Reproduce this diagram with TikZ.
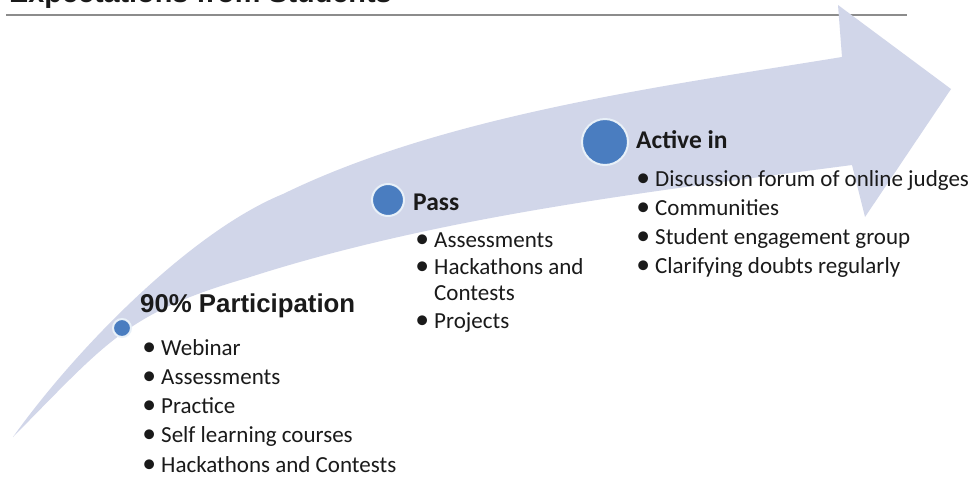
\documentclass[tikz,border=0pt]{standalone}
\usepackage{fontspec}
\setmainfont{Carlito}
\newfontfamily\arialfont{Liberation Sans}
\definecolor{band}{RGB}{209,214,233}
\definecolor{dotblue}{RGB}{74,125,192}
\definecolor{dotring}{RGB}{232,240,248}
\definecolor{txt}{RGB}{26,26,26}
\definecolor{rule}{RGB}{140,140,140}
\tikzset{
  dotnode/.style={circle, fill=dotblue, draw=dotring, line width=2pt, inner sep=0pt},
  headtxt/.style={anchor=base west, inner sep=0pt, text=txt, font=\bfseries\fontsize{25.5}{30}\selectfont},
  bul/.style={anchor=base west, inner sep=0pt, text=txt, font=\fontsize{23}{27}\selectfont},
}
\newcommand{\bx}{\makebox[16pt][l]{\makebox[8pt][c]{\scalebox{1.2}{•}}}}
\begin{document}
\begin{tikzpicture}[x=1pt,y=-1pt]
\useasboundingbox (0,0) rectangle (975,483);
\clip (0,0) rectangle (975,483);
\fill[white] (0,0) rectangle (975,483);
% title (cut off at the top, as in the reference)
\node[anchor=base west, inner sep=0pt, text=txt, font=\arialfont\bfseries\fontsize{28.8}{32}\selectfont] (title) at (9,2) {Expectations from Students};
\coordinate (ruleL) at (6,15);
\coordinate (ruleR) at (907,15);
\draw[rule, line width=1.6pt] (ruleL) -- (ruleR);
% curved arrow
\fill[band] (13,437)
  .. controls (75,350) and (190,232) .. (283,194)
  .. controls (445,115) and (664,86) .. (842,57)
  -- (838,5) -- (951,89) -- (865,217) -- (852,165)
  .. controls (654,191) and (439,216) .. (247,278)
  .. controls (126.5,313) and (107,342) .. (13,437)
  -- cycle;
% dots
\node[dotnode, minimum size=18pt] (d1) at (122,328) {};
\node[dotnode, minimum size=32pt] (d2) at (388,200) {};
\node[dotnode, minimum size=46pt] (d3) at (605,142) {};
% headings
\node[headtxt, font=\arialfont\bfseries\fontsize{25.8}{30}\selectfont] (h1) at (140,312) {90\% Participation};
\node[headtxt] (h2) at (413,210) {Pass};
\node[headtxt] (h3) at (636,148) {Active in};
% left list
\node[bul] (l1) at (145,355) {\bx Webinar};
\node[bul] (l2) at (145,384) {\bx Assessments};
\node[bul] (l3) at (145,413) {\bx Practice};
\node[bul] (l4) at (145,442) {\bx Self learning courses};
\node[bul] (l5) at (145,472) {\bx Hackathons and Contests};
% middle list
\node[bul] (m1) at (418,247) {\bx Assessments};
\node[bul] (m2) at (418,274) {\bx Hackathons and};
\node[bul] (m3) at (418,300) {\hspace{16pt}Contests};
\node[bul] (m4) at (418,328) {\bx Projects};
% right list
\node[bul] (r1) at (639,186) {\bx Discussion forum of online judges};
\node[bul] (r2) at (639,215) {\bx Communities};
\node[bul] (r3) at (639,244) {\bx Student engagement group};
\node[bul] (r4) at (639,273) {\bx Clarifying doubts regularly};
\end{tikzpicture}
\end{document}
